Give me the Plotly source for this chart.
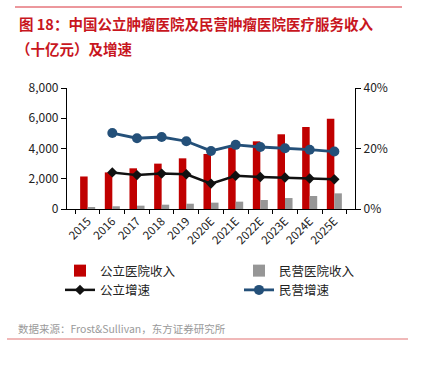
import plotly.graph_objects as go

years = ["2015", "2016", "2017", "2018", "2019", "2020E", "2021E", "2022E", "2023E", "2024E", "2025E"]
public_rev = [2150, 2420, 2690, 3000, 3350, 3640, 4080, 4475, 4940, 5420, 5970]
private_rev = [130, 180, 220, 285, 350, 420, 485, 595, 725, 860, 1035]
public_growth = [None, 12.1, 11.2, 11.7, 11.5, 8.4, 11.0, 10.6, 10.4, 10.1, 9.8]
private_growth = [None, 25.1, 23.4, 23.8, 22.4, 19.2, 21.2, 20.5, 20.1, 19.6, 19.0]

FONT = "Noto Sans CJK SC"
RED = "#C00000"
GRAY = "#969696"
BLUE = "#245079"
BLACK = "#111111"

W, H = 421, 372
L, R, T, B = 67, 355, 88, 209  # plot area pixels


def px(x):
    return (x - L) / (R - L)


def py(y):
    return (B - y) / (B - T)


fig = go.Figure()
fig.add_trace(go.Bar(x=years, y=public_rev, name="公立医院收入", marker=dict(color=RED, line=dict(width=0))))
fig.add_trace(go.Bar(x=years, y=private_rev, name="民营医院收入", marker=dict(color=GRAY, line=dict(width=0))))
fig.add_trace(go.Scatter(x=years, y=public_growth, name="公立增速", yaxis="y2", mode="lines+markers",
                         line=dict(color=BLACK, width=2.5), marker=dict(symbol="diamond", size=8, color=BLACK)))
fig.add_trace(go.Scatter(x=years, y=private_growth, name="民营增速", yaxis="y2", mode="lines+markers",
                         line=dict(color=BLUE, width=2.8), marker=dict(symbol="circle", size=10, color=BLUE)))

fig.update_layout(
    width=W, height=H,
    margin=dict(l=L, r=W - R, t=T, b=H - B, pad=0, autoexpand=False),
    paper_bgcolor="white", plot_bgcolor="white",
    font=dict(family=FONT, size=12, color="#222222"),
    barmode="group", bargap=0.39, bargroupgap=0,
    showlegend=True,
    legend=dict(orientation="h", x=px(60), y=py(256), xanchor="left", yanchor="top",
                entrywidth=134, entrywidthmode="pixels", traceorder="normal",
                font=dict(size=12.5, family=FONT, color="#222222"), itemwidth=30,
                tracegroupgap=0, bgcolor="rgba(0,0,0,0)"),
    xaxis=dict(type="category", showline=True, linecolor="#000", linewidth=1.2,
               ticks="outside", tickson="boundaries", ticklen=4, tickcolor="#000",
               tickangle=-45, tickfont=dict(size=11.5, family=FONT), showgrid=False),
    yaxis=dict(range=[0, 8000], dtick=2000, tickformat=",d", showline=True, linecolor="#000", linewidth=1.2,
               ticks="outside", ticklen=5, tickcolor="#000", showgrid=False, zeroline=False,
               tickfont=dict(size=12, family=FONT)),
    yaxis2=dict(range=[0, 40], dtick=20, ticksuffix="%", overlaying="y", side="right",
                showline=True, linecolor="#000", linewidth=1.2, ticks="outside", ticklen=5, tickcolor="#000",
                showgrid=False, zeroline=False, tickfont=dict(size=12, family=FONT)),
)

shapes = [
    dict(type="line", xref="paper", yref="paper", x0=px(15), x1=px(402), y0=py(7), y1=py(7),
         line=dict(color="#D9313A", width=1)),
    dict(type="line", xref="paper", yref="paper", x0=px(7), x1=px(408), y0=py(339), y1=py(339),
         line=dict(color="#EBA0A0", width=1.5)),
]
fig.update_layout(shapes=shapes)

fig.add_annotation(text="<b>图 18：中国公立肿瘤医院及民营肿瘤医院医疗服务收入</b>", xref="paper", yref="paper",
                   x=px(17), y=py(23), xanchor="left", yanchor="middle", showarrow=False,
                   font=dict(size=14.5, color="#C8161E", family=FONT))
fig.add_annotation(text="<b>（十亿元）及增速</b>", xref="paper", yref="paper",
                   x=px(14), y=py(49), xanchor="left", yanchor="middle", showarrow=False,
                   font=dict(size=14.5, color="#C8161E", family=FONT))
fig.add_annotation(text="数据来源：Frost&Sullivan，东方证券研究所", xref="paper", yref="paper",
                   x=px(16), y=py(328), xanchor="left", yanchor="middle", showarrow=False,
                   font=dict(size=10.5, color="#9A9A9A", family=FONT))

fig.write_html("out.html", config={"displayModeBar": False},
               post_script="document.body.style.margin='0';document.body.style.overflow='hidden';")
